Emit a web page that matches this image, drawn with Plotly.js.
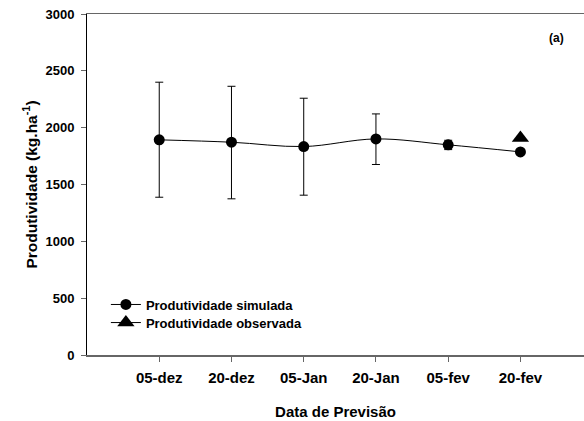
<!DOCTYPE html>
<html>
<head>
<meta charset="utf-8">
<script src="https://cdn.plot.ly/plotly-3.0.1.min.js"></script>
<style>html,body{margin:0;padding:0;background:#fff;}#chart{width:584px;height:421px;}</style>
</head>
<body>
<div id="chart"></div>
<script>
const categories = ['05-dez', '20-dez', '05-Jan', '20-Jan', '05-fev', '20-fev'];
const simulada = [1893, 1872, 1834, 1901, 1849, 1787];
const erroSuperior = [507, 492, 425, 220, 40, 0];
const erroInferior = [505, 498, 428, 225, 42, 0];
const observadaCategoria = ['20-fev'];
const observada = [1910];
const yTicks = [0, 500, 1000, 1500, 2000, 2500, 3000];

const fontFam = '"Liberation Sans", Arial, sans-serif';

const traces = [
  {
    x: categories, y: simulada, type: 'scatter', mode: 'lines+markers',
    name: 'Produtividade simulada', legend: 'legend',
    line: {color: '#000', width: 1, shape: 'spline', smoothing: 1},
    marker: {symbol: 'circle', size: 11, color: '#000'},
    error_y: {type: 'data', symmetric: false, array: erroSuperior, arrayminus: erroInferior,
              color: '#000', thickness: 1, width: 4}
  },
  {
    x: observadaCategoria, y: observada, type: 'scatter', mode: 'lines+markers',
    name: 'Produtividade observada', legend: 'legend2',
    line: {color: '#000', width: 1},
    marker: {symbol: 'triangle-up', size: 15, color: '#000'}
  }
];

const legendStyle = {xanchor: 'left', yanchor: 'top', bgcolor: 'rgba(0,0,0,0)',
  font: {size: 13, family: fontFam, weight: 'bold'}, tracegroupgap: 0, itemwidth: 30};

const layout = {
  width: 584, height: 421,
  margin: {l: 87, r: 0, t: 14, b: 66, pad: 0},
  paper_bgcolor: '#fff', plot_bgcolor: '#fff',
  font: {family: fontFam, color: '#000', weight: 'bold'},
  showlegend: true,
  legend: Object.assign({x: 0.038, y: 0.192}, legendStyle),
  legend2: Object.assign({x: 0.038, y: 0.139}, legendStyle),
  xaxis: {
    type: 'category', categoryorder: 'array', categoryarray: categories,
    range: [-1, 5.88], showgrid: false, zeroline: false,
    showline: true, linecolor: '#666', linewidth: 1.5, mirror: true,
    ticks: 'outside', ticklen: 5, tickcolor: '#666', tickwidth: 1,
    ticklabelstandoff: 3,
    tickfont: {size: 15, family: fontFam, weight: 'bold'},
    title: {text: 'Data de Previsão', font: {size: 15, family: fontFam, weight: 'bold'}, standoff: 22}
  },
  yaxis: {
    range: [0, 3000], tickvals: yTicks, ticktext: yTicks.map(String),
    showgrid: false, zeroline: false,
    showline: true, linecolor: '#000', linewidth: 1,
    ticks: 'outside', ticklen: 5, tickcolor: '#666', tickwidth: 1,
    ticklabelstandoff: 4,
    tickfont: {size: 13, family: fontFam, weight: 'bold'},
    title: {text: 'Produtividade (kg.ha<sup>-1</sup>)', font: {size: 15.5, family: fontFam, weight: 'bold'}, standoff: 4}
  },
  annotations: [
    {text: '(a)', xref: 'paper', yref: 'paper', x: 0.944, y: 0.93, xanchor: 'center', yanchor: 'middle',
     showarrow: false, font: {size: 12, family: fontFam, weight: 'bold'}}
  ]
};

Plotly.newPlot('chart', traces, layout, {displayModeBar: false, staticPlot: true});
</script>
</body>
</html>
